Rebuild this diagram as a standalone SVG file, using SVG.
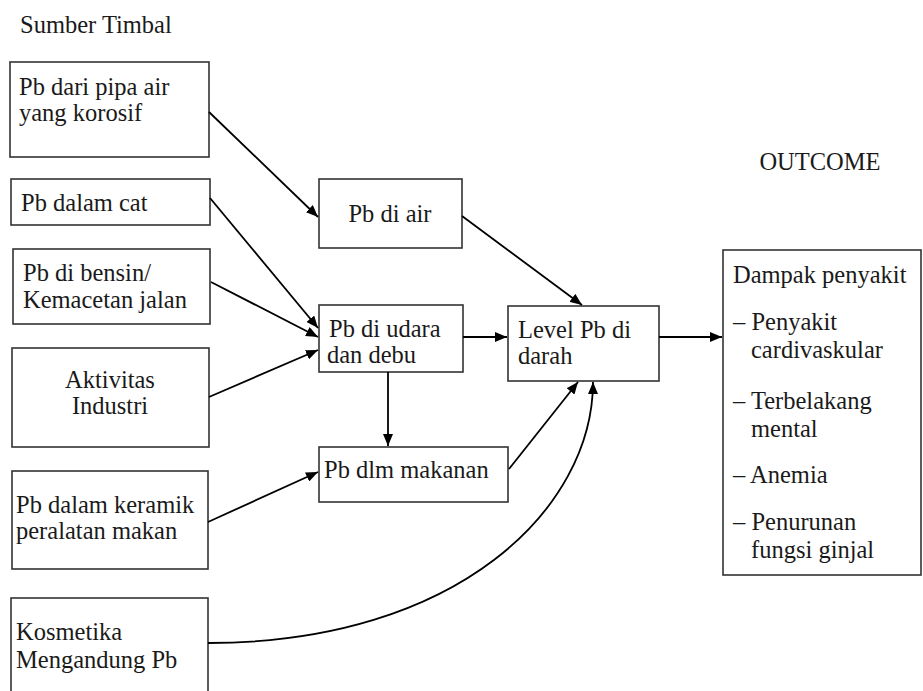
<svg xmlns="http://www.w3.org/2000/svg" width="923" height="691" viewBox="0 0 923 691">
<defs>
<marker id="ah" viewBox="0 0 12 10" refX="12" refY="5" markerWidth="12" markerHeight="10" markerUnits="userSpaceOnUse" orient="auto">
<path d="M0,0 L12,5 L0,10 Z" fill="#000"/>
</marker>
</defs>
<style>
.box{fill:#fff;stroke:#333;stroke-width:1.6}
.t{font-family:'Liberation Serif','DejaVu Serif',serif;font-size:24.5px;fill:#1a1a1a}
.c{text-anchor:middle}
.ln{fill:none;stroke:#000;stroke-width:1.8;marker-end:url(#ah)}
</style>
<rect width="923" height="691" fill="#fff"/>
<text class="t" x="20" y="33">Sumber Timbal</text>
<text class="t c" x="820" y="170">OUTCOME</text>

<g id="n-pipa"><rect class="box" x="10" y="62" width="199" height="95"/>
<text class="t" x="19" y="95">Pb dari pipa air</text><text class="t" x="19" y="121">yang korosif</text></g>
<g id="n-cat"><rect class="box" x="11" y="179" width="199" height="46"/>
<text class="t" x="21" y="211">Pb dalam cat</text></g>
<g id="n-bensin"><rect class="box" x="13" y="249" width="197" height="75"/>
<text class="t" x="23" y="281">Pb di bensin/</text><text class="t" x="23" y="308">Kemacetan jalan</text></g>
<g id="n-industri"><rect class="box" x="12" y="348" width="197" height="99"/>
<text class="t c" x="110" y="388">Aktivitas</text><text class="t c" x="110" y="414">Industri</text></g>
<g id="n-keramik"><rect class="box" x="12" y="471" width="196" height="98"/>
<text class="t" x="16" y="513">Pb dalam keramik</text><text class="t" x="16" y="539">peralatan makan</text></g>
<g id="n-kosmetika"><rect class="box" x="11" y="598" width="197" height="110"/>
<text class="t" x="16" y="640">Kosmetika</text><text class="t" x="16" y="668">Mengandung Pb</text></g>

<g id="n-air"><rect class="box" x="319" y="179" width="143" height="69"/>
<text class="t c" x="390" y="222">Pb di air</text></g>
<g id="n-udara"><rect class="box" x="319" y="305" width="144" height="67"/>
<text class="t" x="329" y="337">Pb di udara</text><text class="t" x="327" y="363">dan debu</text></g>
<g id="n-makanan"><rect class="box" x="319" y="447" width="189" height="55"/>
<text class="t" x="324" y="478">Pb dlm makanan</text></g>
<g id="n-level"><rect class="box" x="508" y="306" width="151" height="75"/>
<text class="t" x="518" y="338">Level Pb di</text><text class="t" x="518" y="364">darah</text></g>
<g id="n-outcome"><rect class="box" x="723" y="250" width="198" height="325"/>
<text class="t" x="733" y="283">Dampak penyakit</text>
<text class="t" x="733" y="330">– Penyakit</text><text class="t" x="751" y="358">cardivaskular</text>
<text class="t" x="733" y="409">– Terbelakang</text><text class="t" x="751" y="437">mental</text>
<text class="t" x="733" y="483">– Anemia</text>
<text class="t" x="733" y="530">– Penurunan</text><text class="t" x="751" y="558">fungsi ginjal</text></g>

<g id="connectors">
<line class="ln" x1="209" y1="112" x2="318" y2="217"/>
<line class="ln" x1="210" y1="198" x2="318" y2="328"/>
<line class="ln" x1="211" y1="282" x2="318" y2="337"/>
<line class="ln" x1="209" y1="397" x2="318" y2="350"/>
<line class="ln" x1="208" y1="522" x2="318" y2="472"/>
<path class="ln" d="M208,643 C458,643 593,508 593,382"/>
<line class="ln" x1="462" y1="216" x2="582" y2="305"/>
<line class="ln" x1="463" y1="337" x2="507" y2="337"/>
<line class="ln" x1="388" y1="372" x2="388" y2="446"/>
<line class="ln" x1="509" y1="469" x2="578" y2="382"/>
<line class="ln" x1="659" y1="337" x2="722" y2="337"/>
</g>
</svg>
